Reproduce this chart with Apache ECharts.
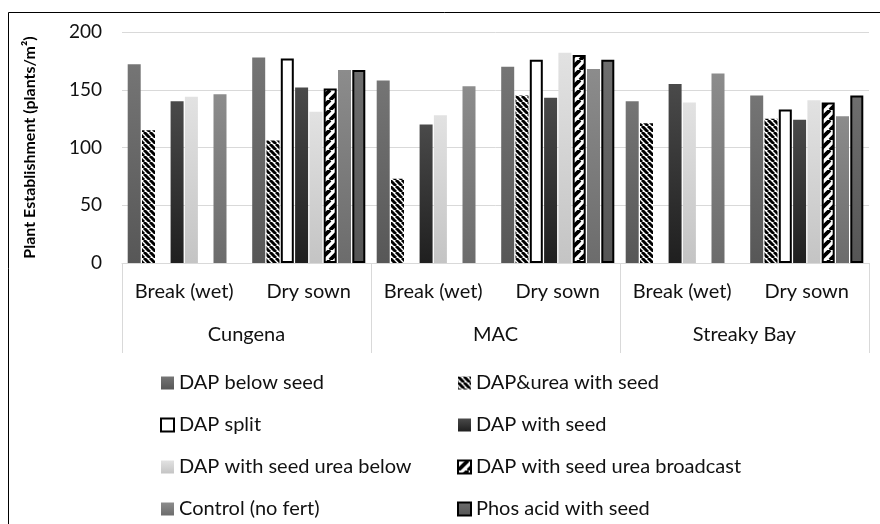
<!DOCTYPE html>
<html>
<head>
<meta charset="utf-8">
<style>
  html, body { margin: 0; padding: 0; background: #fff; }
  #chart { width: 880px; height: 524px; }
</style>
<script src="https://cdn.jsdelivr.net/npm/echarts@6.0.0/dist/echarts.min.js"></script>
</head>
<body>
<div id="chart"></div>
<script>
// categories: sowing time inside each site
const sowing = ["Break (wet)", "Dry sown", "Break (wet)", "Dry sown", "Break (wet)", "Dry sown"];
const sites = ["Cungena", "MAC", "Streaky Bay"];
const yTicks = [0, 50, 100, 150, 200];

// plants/m2 (null = not in that treatment)
const dapBelowSeed = [172, 178, 158, 170, 140, 145];
const dapUreaWithSeed = [115, 106, 73, 145, 121, 125];
const dapSplit = [null, 177, null, 176, null, 133];
const dapWithSeed = [140, 152, 120, 143, 155, 124];
const dapSeedUreaBelow = [144, 131, 128, 182, 139, 141];
const dapSeedUreaBroadcast = [null, 151, null, 180, null, 139];
const controlNoFert = [146, 167, 153, 168, 164, 127];
const phosAcidWithSeed = [null, 167, null, 176, null, 145];

const FONT = "Lato, 'Noto Sans', sans-serif";

function stripes(size, lw, back) {
  const c = document.createElement("canvas");
  c.width = c.height = size;
  const g = c.getContext("2d");
  g.fillStyle = "#fff";
  g.fillRect(0, 0, size, size);
  g.strokeStyle = "#000";
  g.lineWidth = lw;
  g.beginPath();
  for (let k = -1; k <= 1; k++) {
    if (back) {
      g.moveTo(k * size, 0);
      g.lineTo(k * size + size, size);
    } else {
      g.moveTo(k * size, size);
      g.lineTo(k * size + size, 0);
    }
  }
  g.stroke();
  return c;
}

const grad = (top, bottom) => ({
  type: "linear", x: 0, y: 0, x2: 0, y2: 1,
  colorStops: [{ offset: 0, color: top }, { offset: 1, color: bottom }],
});

const seriesDefs = [
  { name: "DAP below seed", data: dapBelowSeed, style: { color: grad("#757575", "#575757") } },
  { name: "DAP&urea with seed", data: dapUreaWithSeed, style: { color: { image: stripes(6, 3, true), repeat: "repeat" } } },
  { name: "DAP split", data: dapSplit, style: { color: "#fff", borderColor: "#000", borderWidth: 2 } },
  { name: "DAP with seed", data: dapWithSeed, style: { color: grad("#4a4a4a", "#1f1f1f") } },
  { name: "DAP with seed urea below", data: dapSeedUreaBelow, style: { color: grad("#e2e2e2", "#c4c4c4") } },
  { name: "DAP with seed urea broadcast", data: dapSeedUreaBroadcast, style: { color: { image: stripes(10, 3.8, false), repeat: "repeat" }, borderColor: "#000", borderWidth: 2 } },
  { name: "Control (no fert)", data: controlNoFert, style: { color: grad("#8c8c8c", "#6c6c6c") } },
  { name: "Phos acid with seed", data: phosAcidWithSeed, style: { color: grad("#6e6e6e", "#555555"), borderColor: "#000", borderWidth: 2 } },
];

const chart = echarts.init(document.getElementById("chart"));

const legendBase = {
  orient: "vertical",
  top: 373,
  padding: 0,
  itemWidth: 13,
  itemHeight: 13,
  itemGap: 22,
  icon: "rect",
  textStyle: { fontFamily: FONT, fontSize: 20, color: "#111" },
};

chart.setOption({
  animation: false,
  backgroundColor: "#fff",
  textStyle: { fontFamily: FONT },
  grid: { left: 122, right: 11, top: 32, bottom: 261 },
  graphic: [
    {
      type: "rect",
      shape: { x: 8.5, y: 12.5, width: 1000, height: 1000 },
      style: { fill: null, stroke: "#000", lineWidth: 1 },
      silent: true,
    },
  ],
  legend: [
    { ...legendBase, left: 160, data: seriesDefs.filter((_, i) => i % 2 === 0).map((s) => s.name) },
    { ...legendBase, left: 457, data: seriesDefs.filter((_, i) => i % 2 === 1).map((s) => s.name) },
  ],
  xAxis: [
    {
      type: "category",
      data: sowing,
      position: "bottom",
      axisLine: { lineStyle: { color: "#d9d9d9" } },
      axisTick: { show: false },
      axisLabel: { fontSize: 20, color: "#111", margin: 29, verticalAlign: "middle", interval: 0 },
    },
    {
      type: "category",
      data: sites,
      position: "bottom",
      offset: 90,
      axisLine: { show: false },
      axisTick: { show: true, inside: true, length: 90, lineStyle: { color: "#d9d9d9" } },
      axisLabel: { inside: true, fontSize: 20, color: "#111", margin: 18, verticalAlign: "middle" },
    },
  ],
  yAxis: {
    type: "value",
    min: yTicks[0],
    max: yTicks[yTicks.length - 1],
    interval: 50,
    name: "Plant Establishment (plants/m²)",
    nameLocation: "middle",
    nameGap: 84,
    nameTextStyle: { fontSize: 16, fontWeight: "bold", color: "#000" },
    axisLine: { show: false },
    axisTick: { show: false },
    axisLabel: { fontSize: 19, color: "#111", margin: 20 },
    splitLine: { lineStyle: { color: "#d9d9d9" } },
  },
  series: seriesDefs.map((s) => ({
    name: s.name,
    type: "bar",
    xAxisIndex: 0,
    data: s.data,
    barWidth: 13,
    barGap: "10%",
    itemStyle: s.style,
  })),
});
</script>
</body>
</html>
